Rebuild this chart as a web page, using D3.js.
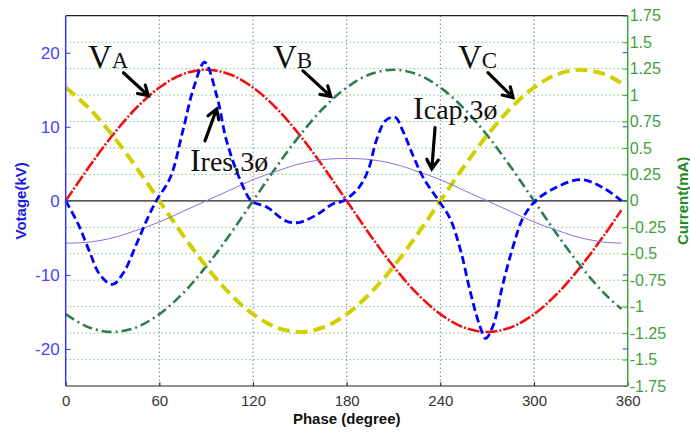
<!DOCTYPE html>
<html lang="en">
  <head>
    <meta charset="UTF-8">
    <title>Phase voltages and currents</title>
    <script src="https://cdn.jsdelivr.net/npm/d3@7"></script>
    <style>
      body { margin: 0; background: #fff; }
    </style>
  </head>
  <body>
    <script>
      let w = 690;
      let h = 435;
      let plotL = 65.7, plotR = 627.7, plotT = 15.7, plotB = 386;

      // phase grid used for the three voltages and the capacitive current
      let phase = [0, 15, 30, 45, 60, 75, 90, 105, 120, 135, 150, 165, 180,
                   195, 210, 225, 240, 255, 270, 285, 300, 315, 330, 345, 356];
      let vA = [0, 4.6, 8.85, 12.5, 15.3, 17.1, 17.7, 17.1, 15.3, 12.5, 8.85, 4.6, 0,
                -4.6, -8.85, -12.5, -15.3, -17.1, -17.7, -17.1, -15.3, -12.5, -8.85, -4.6, -1.25];
      let vB = [-15.3, -17.1, -17.7, -17.1, -15.3, -12.5, -8.85, -4.6, 0, 4.6, 8.85, 12.5, 15.3,
                17.1, 17.7, 17.1, 15.3, 12.5, 8.85, 4.6, 0, -4.6, -8.85, -12.5, -14.6];
      let vC = [15.3, 12.5, 8.85, 4.6, 0, -4.6, -8.85, -12.5, -15.3, -17.1, -17.7, -17.1, -15.3,
                -12.5, -8.85, -4.6, 0, 4.6, 8.85, 12.5, 15.3, 17.1, 17.7, 17.1, 15.9];
      let iCap = [-0.4, -0.39, -0.35, -0.28, -0.2, -0.1, 0, 0.1, 0.2, 0.28, 0.35, 0.39, 0.4,
                  0.39, 0.35, 0.28, 0.2, 0.1, 0, -0.1, -0.2, -0.28, -0.35, -0.39, -0.4];

      // resistive current, read point by point
      let iresPhase = [0, 8, 15, 22, 30, 37, 45, 52, 58, 67, 75, 82, 89, 97, 103, 112, 119,
                       129, 141, 149, 161, 171, 178, 188, 194, 199, 205, 211, 216, 223, 229, 239,
                       246, 253, 259, 265, 269, 274, 280, 287, 293, 301, 314, 330, 344, 356];
      let iRes = [0, -0.22, -0.47, -0.7, -0.79, -0.68, -0.42, -0.18, 0, 0.22, 0.66, 1.07, 1.31, 0.98, 0.57, 0.19, 0,
                  -0.06, -0.19, -0.205, -0.13, -0.03, 0, 0.13, 0.3, 0.57, 0.76, 0.79, 0.66, 0.41, 0.22, 0,
                  -0.16, -0.47, -0.85, -1.17, -1.3, -1.17, -0.79, -0.41, -0.16, 0, 0.126, 0.2, 0.126, 0];

      let phaseTicks = [0, 60, 120, 180, 240, 300, 360];
      let voltTicks = [20, 10, 0, -10, -20];
      let currTicks = [1.75, 1.5, 1.25, 1, 0.75, 0.5, 0.25, 0, -0.25, -0.5, -0.75, -1, -1.25, -1.5, -1.75];

      let xScale = d3.scaleLinear().domain([0, 360]).range([plotL, plotR]);
      let yV = d3.scaleLinear().domain([-25, 25]).range([plotB, plotT]);
      let yI = d3.scaleLinear().domain([-1.75, 1.75]).range([plotB, plotT]);

      let svg = d3.select('body')
                  .append('svg')
                  .attr('width', w)
                  .attr('height', h)
                  .style('font-family', 'Arial, "Liberation Sans", sans-serif');

      // grid
      svg.selectAll('.hgrid')
          .data(currTicks.filter(d => d !== 0 && Math.abs(d) !== 1.75))
          .enter()
          .append('line')
          .attr('x1', plotL).attr('x2', plotR)
          .attr('y1', d => yI(d)).attr('y2', d => yI(d))
          .attr('stroke', '#3fae3f')
          .attr('stroke-width', 1)
          .attr('stroke-dasharray', '1,3');

      svg.selectAll('.vgrid')
          .data(phaseTicks.slice(1, -1))
          .enter()
          .append('line')
          .attr('x1', d => xScale(d)).attr('x2', d => xScale(d))
          .attr('y1', plotT).attr('y2', plotB)
          .attr('stroke', '#444')
          .attr('stroke-width', 1)
          .attr('stroke-dasharray', '1,3');

      // zero line
      svg.append('line')
          .attr('x1', plotL).attr('x2', plotR)
          .attr('y1', yV(0)).attr('y2', yV(0))
          .attr('stroke', '#222')
          .attr('stroke-width', 1.2);

      // curves
      let curve = d3.curveCatmullRom.alpha(0.5);
      let voltLine = d3.line().x((d, i) => xScale(phase[i])).y(d => yV(d)).curve(curve);
      let capLine = d3.line().x((d, i) => xScale(phase[i])).y(d => yI(d)).curve(curve);
      let resLine = d3.line().x((d, i) => xScale(iresPhase[i])).y(d => yI(d)).curve(curve);

      let series = [
        {d: voltLine(vA), color: '#ee1111', width: 2.6, dash: '12,2,2,2'},
        {d: voltLine(vB), color: '#2e7d4e', width: 2.6, dash: '10,4,2,4'},
        {d: voltLine(vC), color: '#d0d000', width: 4, dash: '12,6'},
        {d: capLine(iCap), color: '#8474e0', width: 1, dash: null},
        {d: resLine(iRes), color: '#0000ff', width: 2.8, dash: '8,4'}
      ];

      svg.selectAll('.curve')
          .data(series)
          .enter()
          .append('path')
          .attr('d', s => s.d)
          .attr('fill', 'none')
          .attr('stroke', s => s.color)
          .attr('stroke-width', s => s.width)
          .attr('stroke-dasharray', s => s.dash);

      // frame
      svg.append('line').attr('x1', plotL).attr('x2', plotR).attr('y1', plotT).attr('y2', plotT)
          .attr('stroke', '#222').attr('stroke-width', 1.2);
      svg.append('line').attr('x1', plotL).attr('x2', plotR).attr('y1', plotB).attr('y2', plotB)
          .attr('stroke', '#222').attr('stroke-width', 1.2);

      // axes
      let xAxis = svg.append('g')
          .attr('transform', `translate(0,${plotB})`)
          .call(d3.axisBottom(xScale).tickValues(phaseTicks).tickSize(-4).tickPadding(9));
      xAxis.select('.domain').remove();
      xAxis.selectAll('line').attr('stroke', '#222');
      xAxis.selectAll('text').attr('fill', '#333').attr('font-size', 15)
          .attr('font-family', '"Liberation Sans Narrow", "Arial Narrow", Arial, sans-serif');

      let yAxisL = svg.append('g')
          .attr('transform', `translate(${plotL},0)`)
          .call(d3.axisLeft(yV).tickValues(voltTicks).tickSize(-5).tickPadding(6)
                  .tickFormat(d => String(d)));
      yAxisL.select('.domain').attr('stroke', '#3535ff').attr('stroke-width', 1.5)
          .attr('d', `M0,${plotT}V${plotB}`);
      yAxisL.selectAll('line').attr('stroke', '#3535ff');
      yAxisL.selectAll('text').attr('fill', '#4545ff').attr('font-size', 17);

      // mirrored voltage ticks on the right side
      svg.selectAll('.vtickR')
          .data(voltTicks)
          .enter()
          .append('line')
          .attr('x1', plotR).attr('x2', plotR - 5)
          .attr('y1', d => yV(d)).attr('y2', d => yV(d))
          .attr('stroke', '#3535ff');

      let yAxisR = svg.append('g')
          .attr('transform', `translate(${plotR},0)`)
          .call(d3.axisRight(yI).tickValues(currTicks).tickSize(-5).tickPadding(2)
                  .tickFormat(d => String(d)));
      yAxisR.select('.domain').attr('stroke', '#3aa53a').attr('stroke-width', 1.5)
          .attr('d', `M0,${plotT}V${plotB}`);
      yAxisR.selectAll('line').attr('stroke', '#3aa53a');
      yAxisR.selectAll('text').attr('fill', '#3f9f3f').attr('font-size', 16);

      // axis titles
      svg.append('text')
          .attr('transform', `translate(26,${yV(0)}) rotate(-90)`)
          .attr('text-anchor', 'middle')
          .attr('font-size', 15).attr('font-weight', 'bold')
          .attr('fill', '#1a1ae0')
          .text('Votage(kV)');
      svg.append('text')
          .attr('transform', `translate(688,${yV(0)}) rotate(-90)`)
          .attr('text-anchor', 'middle')
          .attr('font-size', 15).attr('font-weight', 'bold')
          .attr('fill', '#1f8a1f')
          .text('Current(mA)');
      svg.append('text')
          .attr('x', (plotL + plotR) / 2).attr('y', 424)
          .attr('text-anchor', 'middle')
          .attr('font-size', 15).attr('font-weight', 'bold')
          .attr('fill', '#111')
          .text('Phase (degree)');

      // annotations (phase, kV)
      let labels = [
        {main: 'V', sub: 'A', at: [14.3, 18.0], mainSize: 33, subSize: 23,
         arrow: [[37, 17.3], [52.9, 14.2]]},
        {main: 'V', sub: 'B', at: [132.8, 18.0], mainSize: 33, subSize: 23,
         arrow: [[152, 17.55], [169.8, 14.1]]},
        {main: 'V', sub: 'C', at: [251.3, 18.0], mainSize: 33, subSize: 23,
         arrow: [[270.5, 17.3], [286.5, 13.95]]},
        {main: 'I', sub: 'cap,3ø', at: [222.5, 11.0], mainSize: 32, subSize: 28,
         arrow: [[236.6, 9.9], [234.5, 4.3]]},
        {main: 'I', sub: 'res,3ø', at: [79.6, 4.05], mainSize: 32, subSize: 28,
         arrow: [[89.2, 8.1], [96.7, 12.4]]}
      ];

      labels.forEach(l => {
        let t = svg.append('text')
            .attr('x', xScale(l.at[0])).attr('y', yV(l.at[1]))
            .attr('font-family', '"Liberation Serif", "Times New Roman", serif')
            .attr('fill', '#111');
        t.append('tspan').attr('font-size', l.mainSize).text(l.main);
        t.append('tspan').attr('font-size', l.subSize).text(l.sub);

        let x0 = xScale(l.arrow[0][0]), y0 = yV(l.arrow[0][1]);
        let x1 = xScale(l.arrow[1][0]), y1 = yV(l.arrow[1][1]);
        let ang = Math.atan2(y1 - y0, x1 - x0);
        let len = 11;
        let b1 = [x1 - len * Math.cos(ang - 0.55), y1 - len * Math.sin(ang - 0.55)];
        let b2 = [x1 - len * Math.cos(ang + 0.55), y1 - len * Math.sin(ang + 0.55)];
        svg.append('path')
            .attr('d', `M${x0},${y0}L${x1},${y1}M${b1[0]},${b1[1]}L${x1},${y1}L${b2[0]},${b2[1]}`)
            .attr('fill', 'none')
            .attr('stroke', '#000')
            .attr('stroke-width', 3.2)
            .attr('stroke-linecap', 'round')
            .attr('stroke-linejoin', 'miter');
      });
    </script>
  </body>
</html>
